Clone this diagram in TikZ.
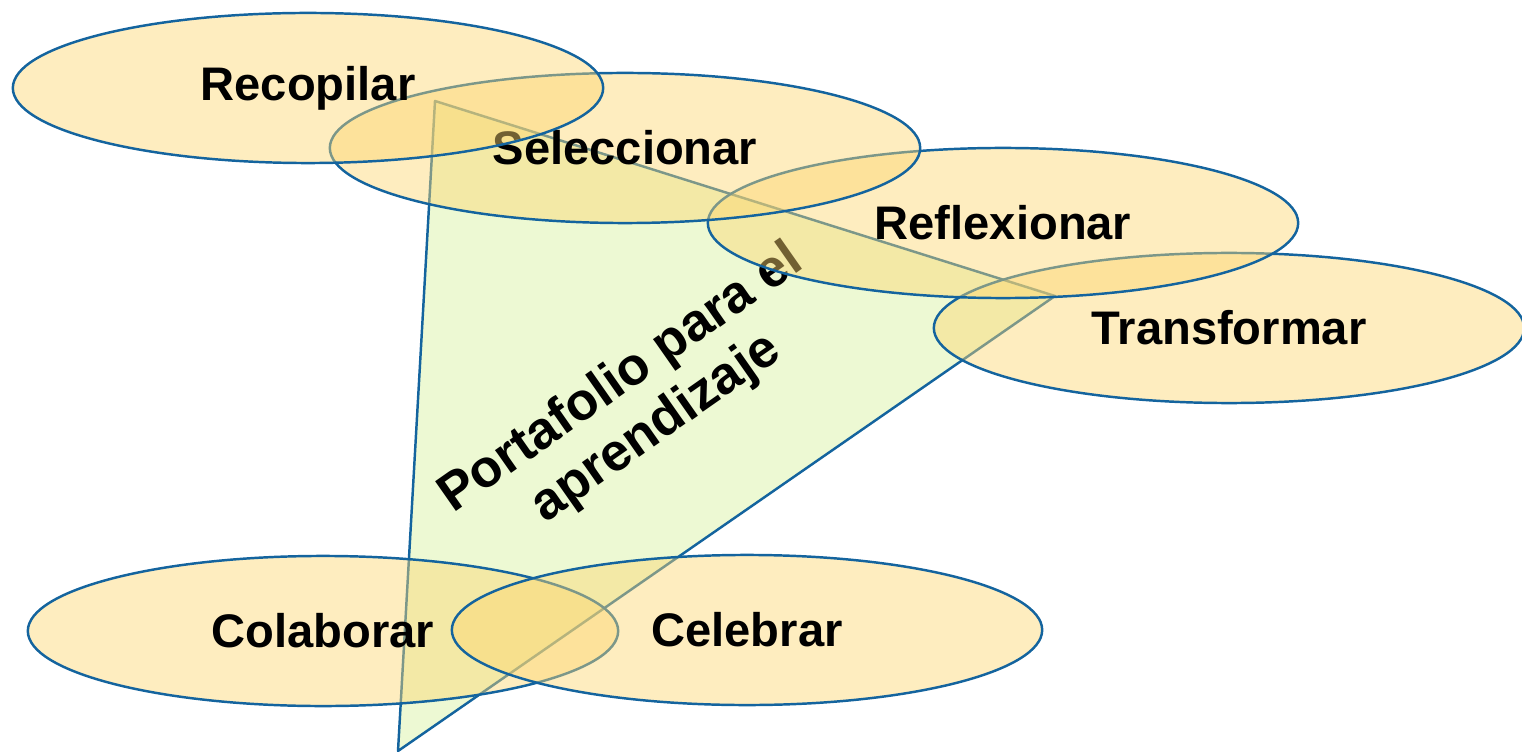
\documentclass[tikz,border=0pt]{standalone}
\usepackage{fontspec}
\setmainfont{Liberation Sans}
\usepackage{xcolor}
\usepackage{tikz}
\usetikzlibrary{shapes.geometric}
\definecolor{edge}{HTML}{14649E}
\definecolor{sun}{HTML}{FCD670}
\definecolor{leaf}{HTML}{EDF9D3}
\definecolor{ink}{HTML}{000000}
\tikzset{
  tri/.style={draw=edge, fill=leaf, line width=0.7pt, line join=round},
  bubble/.style={ellipse, draw=edge, line width=0.7pt, fill=sun, fill opacity=0.45,
    draw opacity=1, text opacity=1, minimum width=5.9cm, minimum height=1.5cm,
    inner sep=0pt, text=ink, font=\fontsize{13.4}{16}\selectfont\bfseries},
  core/.style={text=ink, align=center, rotate=35,
    font=\fontsize{15}{17.2}\selectfont\bfseries},
}
\begin{document}
\begin{tikzpicture}[x=0.01cm, y=-0.01cm]
  \useasboundingbox (0,0) rectangle (1522,752);
  \coordinate (top) at (435,101);
  \coordinate (right) at (1055,296);
  \coordinate (bottom) at (398,751);
  \draw[tri] (top)--(right)--(bottom)--cycle;
  \node[core] (port) at (639,404) {Portafolio para el\\aprendizaje};
  % upper chain, back to front
  \node[bubble] (trans) at (1229,328) {Transformar};
  \node[bubble] (refl) at (1003,223) {Reflexionar};
  \node[bubble] (sel) at (625,148) {Seleccionar};
  \node[bubble] (rec) at (308,88) {Recopilar};
  % lower pair
  \node[bubble] (col) at (323,631) {Colaborar};
  \node[bubble] (cel) at (747,630) {Celebrar};
\end{tikzpicture}
\end{document}
